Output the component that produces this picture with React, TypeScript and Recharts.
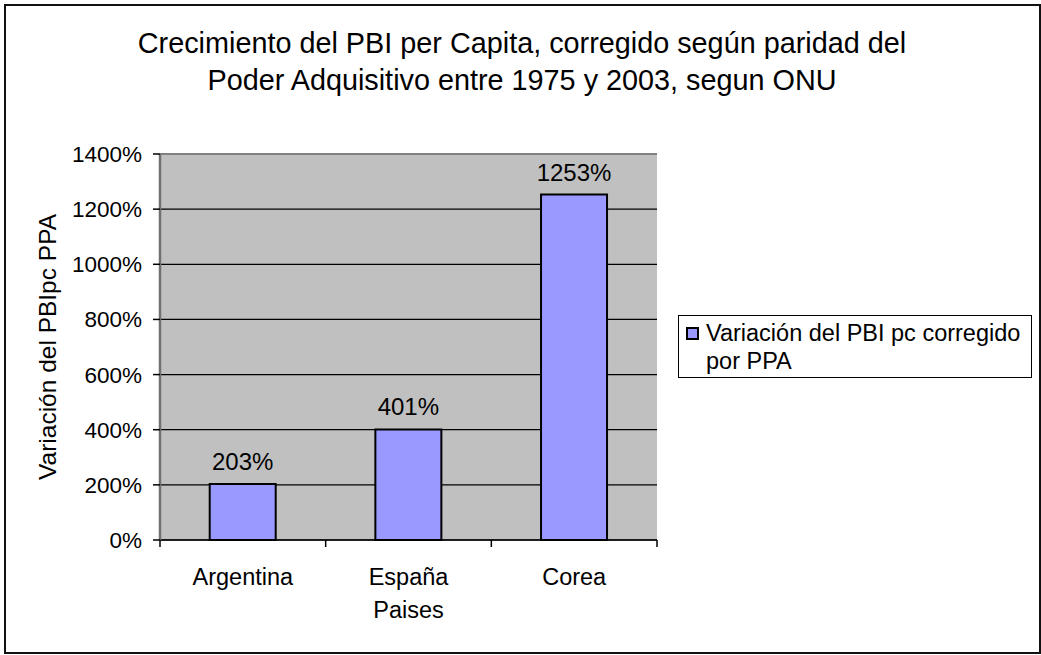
import { Bar, BarChart, CartesianGrid, LabelList, ReferenceLine, XAxis, YAxis } from 'recharts'

const paises = ['Argentina', 'España', 'Corea']
const variacion = [203, 401, 1253]
const yTicks = [0, 200, 400, 600, 800, 1000, 1200, 1400]
const serieNombre = 'Variación del PBI pc corregido por PPA'
const titulo = [
  'Crecimiento del PBI per Capita, corregido según paridad del',
  'Poder Adquisitivo entre 1975 y 2003, segun ONU',
]
const ejeY = 'Variación del PBIpc PPA'
const ejeX = 'Paises'

const data = paises.map((pais, i) => ({ pais, valor: variacion[i] }))

const FONT = '"Liberation Sans", Arial, sans-serif'
const TICK_SIZE = 7
const TICK_MARGIN = 21

// category labels centred on the band, tick marks on the band edges
function PaisTick(props: any) {
  const { x, y, payload, index, visibleTicksCount, width } = props
  const half = payload?.offset ?? width / visibleTicksCount / 2
  const axisY = y - TICK_SIZE - TICK_MARGIN
  return (
    <g>
      <line x1={x - half} x2={x - half} y1={axisY} y2={axisY + TICK_SIZE} stroke="#000" strokeWidth={1.5} />
      {index === visibleTicksCount - 1 && (
        <line x1={x + half} x2={x + half} y1={axisY} y2={axisY + TICK_SIZE} stroke="#000" strokeWidth={1.5} />
      )}
      <text x={x} y={y} dy="0.71em" textAnchor="middle" fill="#000" fontSize={23.5} fontFamily={FONT}>
        {payload.value}
      </text>
    </g>
  )
}

export default function App() {
  return (
    <div style={{ position: 'absolute', left: 0, top: 0, width: 1041, height: 655, background: '#fff', fontFamily: FONT }}>
      <div
        style={{
          position: 'absolute', left: 4, top: 4, width: 1037, height: 650,
          border: '2px solid #111', boxSizing: 'border-box',
        }}
      />
      <div style={{ position: 'absolute', left: 0, top: 25, width: 1044, textAlign: 'center', fontSize: 28.8, lineHeight: '37px', color: '#000' }}>
        {titulo.map((t) => (
          <div key={t}>{t}</div>
        ))}
      </div>
      <BarChart
        width={1041}
        height={655}
        data={data}
        margin={{ top: 154, right: 384, bottom: 59, left: 40 }}
        barCategoryGap="30%"
        style={{ position: 'absolute', left: 0, top: 0 }}
      >
        <CartesianGrid vertical={false} fill="#c0c0c0" fillOpacity={1} stroke="#000" strokeWidth={1.2} />
        <XAxis
          dataKey="pais"
          height={56}
          tickLine={false}
          tickSize={TICK_SIZE}
          tickMargin={TICK_MARGIN}
          axisLine={{ stroke: '#000', strokeWidth: 1.5 }}
          tick={<PaisTick />}
          interval={0}
          label={{ value: ejeX, position: 'bottom', offset: 5, fill: '#000', fontSize: 23.5, fontFamily: FONT }}
        />
        <YAxis
          width={120}
          domain={[0, 1400]}
          ticks={yTicks}
          interval={0}
          tickFormatter={(v: number) => `${v}%`}
          tickSize={TICK_SIZE}
          tickMargin={11}
          tickLine={{ stroke: '#000', strokeWidth: 1.5 }}
          axisLine={{ stroke: '#707070', strokeWidth: 2.5 }}
          tick={{ fill: '#000', fontSize: 22.5, fontFamily: FONT }}
          label={{
            value: ejeY, angle: -90, position: 'insideLeft', offset: 7,
            fill: '#000', fontSize: 24.5, fontFamily: FONT, style: { textAnchor: 'middle' },
          }}
        />
        <YAxis
          yAxisId="borde"
          orientation="right"
          width={0}
          domain={[0, 1400]}
          tick={false}
          tickLine={false}
          axisLine={{ stroke: '#808080', strokeWidth: 2 }}
        />
        <ReferenceLine y={1400} stroke="#808080" strokeWidth={2} />
        <Bar dataKey="valor" name={serieNombre} fill="#9999ff" stroke="#000" strokeWidth={2} isAnimationActive={false}>
          <LabelList
            dataKey="valor"
            position="top"
            offset={14}
            formatter={(v: any) => `${v}%`}
            fill="#000"
            fontSize={24}
            fontFamily={FONT}
          />
        </Bar>
      </BarChart>
      <div
        style={{
          position: 'absolute', left: 678, top: 315, width: 354, height: 63,
          border: '1px solid #000', boxSizing: 'border-box', background: '#fff',
        }}
      >
        <div
          style={{
            position: 'absolute', left: 7, top: 11, width: 13, height: 13,
            background: '#9999ff', border: '2px solid #000', boxSizing: 'border-box',
          }}
        />
        <div style={{ position: 'absolute', left: 27, top: 3, width: 323, fontSize: 23.5, lineHeight: '28px', color: '#000' }}>
          {serieNombre}
        </div>
      </div>
    </div>
  )
}
